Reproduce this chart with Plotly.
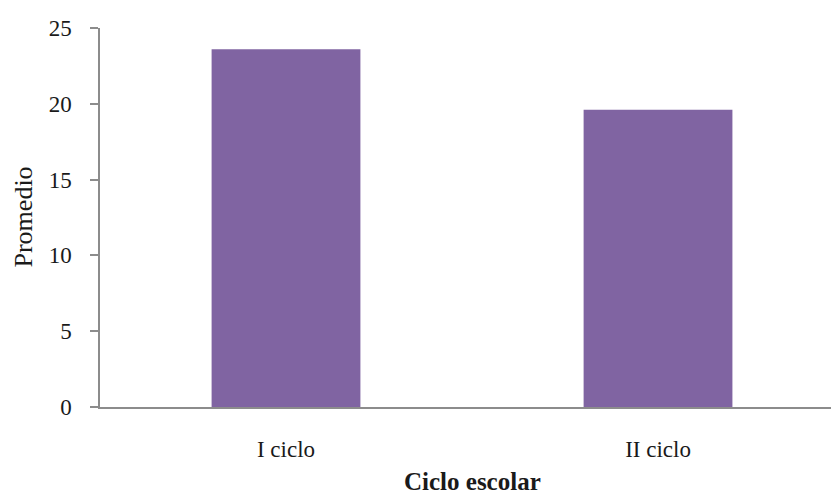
import plotly.graph_objects as go

categories = ["I ciclo", "II ciclo"]
promedio = [23.6, 19.6]
y_ticks = [0, 5, 10, 15, 20, 25]

FONT = "Liberation Serif"
GREY = "#8c8c8c"
TXT = "#1a1a1a"

fig = go.Figure(
    go.Bar(
        x=categories,
        y=promedio,
        width=0.4,
        marker=dict(color="#8064A2", line=dict(width=0)),
    )
)

fig.update_layout(
    width=831,
    height=495,
    margin=dict(l=100, r=0, t=28, b=88),
    paper_bgcolor="white",
    plot_bgcolor="white",
    showlegend=False,
    font=dict(family=FONT, size=23, color=TXT),
    xaxis=dict(
        range=[-0.5, 1.465],
        showline=True,
        linecolor=GREY,
        linewidth=2,
        ticks="",
        showgrid=False,
        zeroline=False,
        ticklabelstandoff=20,
        tickfont=dict(family=FONT, size=23, color=TXT),
    ),
    yaxis=dict(
        range=[0, 25],
        tickvals=y_ticks,
        showline=True,
        linecolor=GREY,
        linewidth=1.5,
        ticks="outside",
        ticklen=8,
        tickcolor=GREY,
        tickwidth=1.5,
        showgrid=False,
        zeroline=False,
        ticklabelstandoff=14,
        tickfont=dict(family=FONT, size=23, color=TXT),
    ),
    annotations=[
        dict(
            text="Promedio",
            xref="paper", yref="paper",
            x=-(100 - 23) / 731, y=0.5,
            xanchor="center", yanchor="middle",
            textangle=-90, showarrow=False,
            font=dict(family=FONT, size=26, color=TXT),
        ),
        dict(
            text="<b>Ciclo escolar</b>",
            xref="x", yref="paper",
            x=0.5, y=-(481 - 407) / 379,
            xanchor="center", yanchor="middle",
            showarrow=False,
            font=dict(family=FONT, size=25, color=TXT),
        ),
    ],
)

fig.write_html(
    "out.html",
    config={"displayModeBar": False},
    post_script="document.body.style.margin='0';document.body.style.overflow='hidden';",
)
